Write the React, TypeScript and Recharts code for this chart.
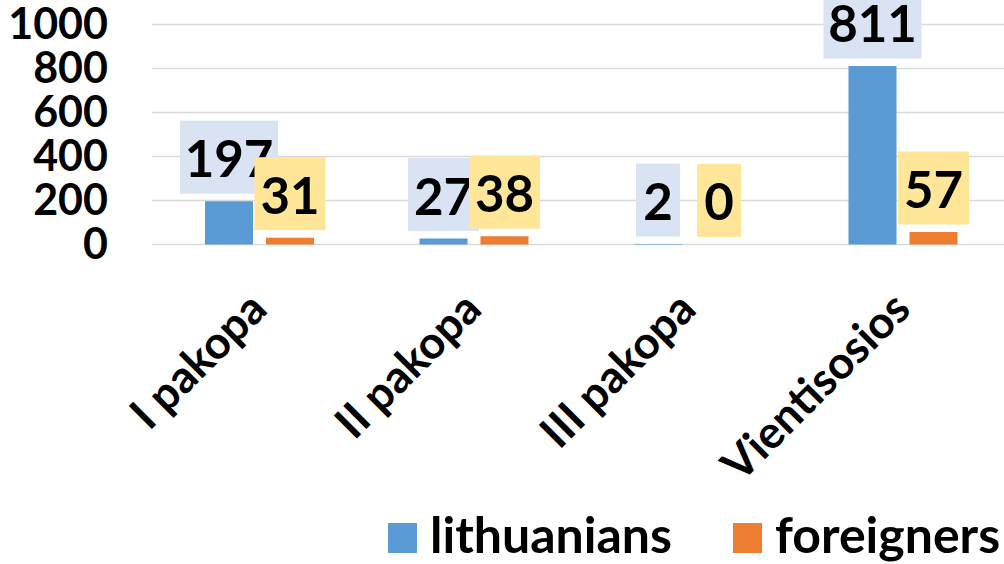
import { BarChart, Bar, XAxis, YAxis, CartesianGrid, Legend, LabelList } from "recharts";

const categories = ["I pakopa", "II pakopa", "III pakopa", "Vientisosios"];
const lithuanians = [197, 27, 2, 811];
const foreigners = [31, 38, 0, 57];
const yTicks = [0, 200, 400, 600, 800, 1000];

const FONT = "Lato, 'Open Sans', sans-serif";
const BLUE = "#5b9bd5";
const ORANGE = "#ed7d31";

const data = categories.map((name, i) => ({
  name,
  lithuanians: lithuanians[i],
  foreigners: foreigners[i],
}));

// value label with a filled box sitting just above the bar
const boxLabel = (fill: string) => (props: any) => {
  const { x, y, width, value } = props;
  if (x == null || y == null) return null;
  const text = String(value);
  const w = 17 + 27 * text.length;
  const h = 73;
  const cx = x + width / 2;
  const bottom = y - 7.5;
  return (
    <g>
      <rect x={cx - w / 2} y={bottom - h} width={w} height={h} fill={fill} />
      <text
        x={cx}
        y={bottom - h / 2 + 20}
        textAnchor="middle"
        fontFamily={FONT}
        fontWeight={700}
        fontSize={51}
        fill="#000"
      >
        {text}
      </text>
    </g>
  );
};

const YTick = (props: any) => {
  const { x, y, payload } = props;
  return (
    <text x={x + 2} y={y + 14.5} textAnchor="end" fontFamily={FONT} fontWeight={700} fontSize={43} fill="#000">
      {payload.value}
    </text>
  );
};

const XTick = (props: any) => {
  const { x, y, payload } = props;
  const px = x + 10;
  const py = y + 67;
  return (
    <text
      x={px}
      y={py}
      transform={`rotate(-45, ${px}, ${py})`}
      textAnchor="end"
      fontFamily={FONT}
      fontWeight={700}
      fontSize={45}
      fill="#000"
    >
      {payload.value}
    </text>
  );
};

const LegendBox = () => (
  <svg width={1010} height={60} style={{ display: "block" }}>
    <rect x={388} y={19} width={29} height={30} fill={BLUE} />
    <text x={430} y={49} fontFamily={FONT} fontWeight={700} fontSize={50} fill="#000">
      lithuanians
    </text>
    <rect x={733} y={19} width={29} height={30} fill={ORANGE} />
    <text x={775} y={49} fontFamily={FONT} fontWeight={700} fontSize={50} fill="#000">
      foreigners
    </text>
  </svg>
);

export default function App() {
  return (
    <div style={{ position: "absolute", left: 0, top: 0, width: 1004, height: 564, overflow: "hidden", background: "#fff" }}>
      <BarChart
        width={1010}
        height={564}
        data={data}
        margin={{ top: 24.5, right: 0, bottom: 0, left: 0 }}
        barGap={13}
        barSize={48}
      >
        <CartesianGrid vertical={false} stroke="#d9d9d9" strokeWidth={1.5} />
        <XAxis
          dataKey="name"
          axisLine={false}
          tickLine={false}
          tickSize={0}
          tickMargin={0}
          height={259.5}
          interval={0}
          tick={<XTick />}
        />
        <YAxis
          domain={[0, 1000]}
          ticks={yTicks}
          axisLine={false}
          tickLine={false}
          tickSize={0}
          tickMargin={46}
          width={152}
          tick={<YTick />}
        />
        <Legend verticalAlign="bottom" align="left" height={60} content={<LegendBox />} wrapperStyle={{ left: 0 }} />
        <Bar dataKey="lithuanians" fill={BLUE} isAnimationActive={false}>
          <LabelList dataKey="lithuanians" content={boxLabel("#dae3f3")} />
        </Bar>
        <Bar dataKey="foreigners" fill={ORANGE} minPointSize={0.01} isAnimationActive={false}>
          <LabelList dataKey="foreigners" content={boxLabel("#ffe699")} />
        </Bar>
      </BarChart>
    </div>
  );
}
